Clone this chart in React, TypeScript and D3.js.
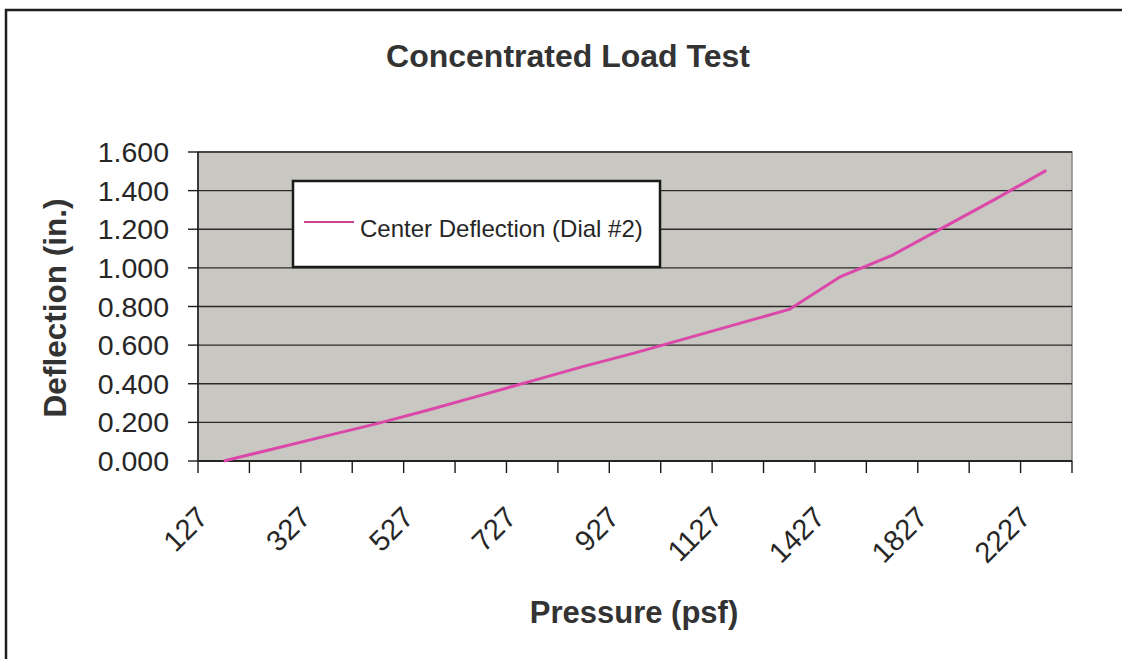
import React from "react";
import * as d3 from "d3";

// pressure categories (psf) – Excel line chart, evenly spaced categories
const pressures = [
  "127", "227", "327", "427", "527", "627", "727", "827", "927", "1027",
  "1127", "1227", "1427", "1627", "1827", "2027", "2227",
];
// center deflection, dial #2 (in.)
const deflection = [
  0.0, 0.065, 0.13, 0.195, 0.265, 0.34, 0.415, 0.49, 0.56, 0.635,
  0.71, 0.785, 0.955, 1.065, 1.21, 1.355, 1.505,
];
const yTicks = [0, 0.2, 0.4, 0.6, 0.8, 1.0, 1.2, 1.4, 1.6];
const seriesName = "Center Deflection (Dial #2)";

const W = 1122;
const H = 659;
const margin = { top: 152, right: 50, bottom: 198, left: 198 };
const font = "'Liberation Sans', Arial, sans-serif";

export default function App() {
  const x = d3
    .scaleBand()
    .domain(pressures)
    .range([margin.left, W - margin.right])
    .paddingInner(0)
    .paddingOuter(0);

  const y = d3
    .scaleLinear()
    .domain([0, 1.6])
    .range([H - margin.bottom, margin.top]);

  const cx = (p) => (x(p) as number) + x.bandwidth() / 2;

  const line = d3
    .line<number>()
    .x((_, i) => cx(pressures[i]))
    .y((d) => y(d));

  const x0 = margin.left;
  const x1 = W - margin.right;
  const y0 = y(0);
  const y1 = y(1.6);

  // category boundaries for tick marks (between categories)
  const bounds = pressures.map((p) => x(p) as number).concat([x1]);

  return (
    <svg
      width={W}
      height={H}
      style={{ position: "absolute", left: 0, top: 0, background: "#fff" }}
      fontFamily={font}
    >
      {/* outer chart frame: only top and left edges fall inside the scan */}
      <path d={`M6,${H} V10 H${W}`} fill="none" stroke="#1e1e1e" strokeWidth={2.5} />

      {/* title */}
      <text x={568} y={67} textAnchor="middle" fontSize={32} fontWeight="bold" fill="#333">
        Concentrated Load Test
      </text>

      {/* plot area */}
      <rect x={x0} y={y1} width={x1 - x0} height={y0 - y1} fill="#c9c7c1" stroke="#8a8884" strokeWidth={1.5} />

      {/* gridlines */}
      {yTicks.map((t) => (
        <line key={"g" + t} x1={x0} x2={x1} y1={y(t)} y2={y(t)} stroke="#2a2a2a" strokeWidth={1.4} />
      ))}

      {/* y axis */}
      <line x1={x0} x2={x0} y1={y1} y2={y0} stroke="#1a1a1a" strokeWidth={1.5} />
      {yTicks.map((t) => (
        <g key={"yt" + t}>
          <line x1={x0 - 10} x2={x0} y1={y(t)} y2={y(t)} stroke="#1a1a1a" strokeWidth={1.4} />
          <text x={169} y={y(t) + 10} textAnchor="end" fontSize={28.5} fill="#262626">
            {d3.format(".3f")(t)}
          </text>
        </g>
      ))}

      {/* x axis */}
      <line x1={x0} x2={x1} y1={y0} y2={y0} stroke="#1a1a1a" strokeWidth={1.6} />
      {bounds.map((b, i) => (
        <line key={"xt" + i} x1={b} x2={b} y1={y0} y2={y0 + 12} stroke="#1a1a1a" strokeWidth={1.4} />
      ))}
      {pressures.map((p, i) =>
        i % 2 === 0 ? (
          <text
            key={"xl" + p}
            transform={`translate(${cx(p) - 14},${y0 + 58}) rotate(-45)`}
            textAnchor="end"
            fontSize={29}
            fill="#262626"
          >
            {p}
          </text>
        ) : null
      )}

      {/* series */}
      <path d={line(deflection) as string} fill="none" stroke="#dc48aa" strokeWidth={3} strokeLinejoin="round" />

      {/* legend */}
      <rect x={293} y={181} width={367} height={86} fill="#fff" stroke="#1a1a1a" strokeWidth={2.5} />
      <line x1={304} x2={354} y1={222} y2={222} stroke="#c9458f" strokeWidth={1.8} />
      <text x={360} y={237} fontSize={24} fill="#262626">
        {seriesName}
      </text>

      {/* axis titles */}
      <text
        transform={`translate(66,308) rotate(-90)`}
        textAnchor="middle"
        fontSize={31.5}
        fontWeight="bold"
        fill="#333"
      >
        Deflection (in.)
      </text>
      <text x={634} y={623} textAnchor="middle" fontSize={31} fontWeight="bold" fill="#333">
        Pressure (psf)
      </text>
    </svg>
  );
}
